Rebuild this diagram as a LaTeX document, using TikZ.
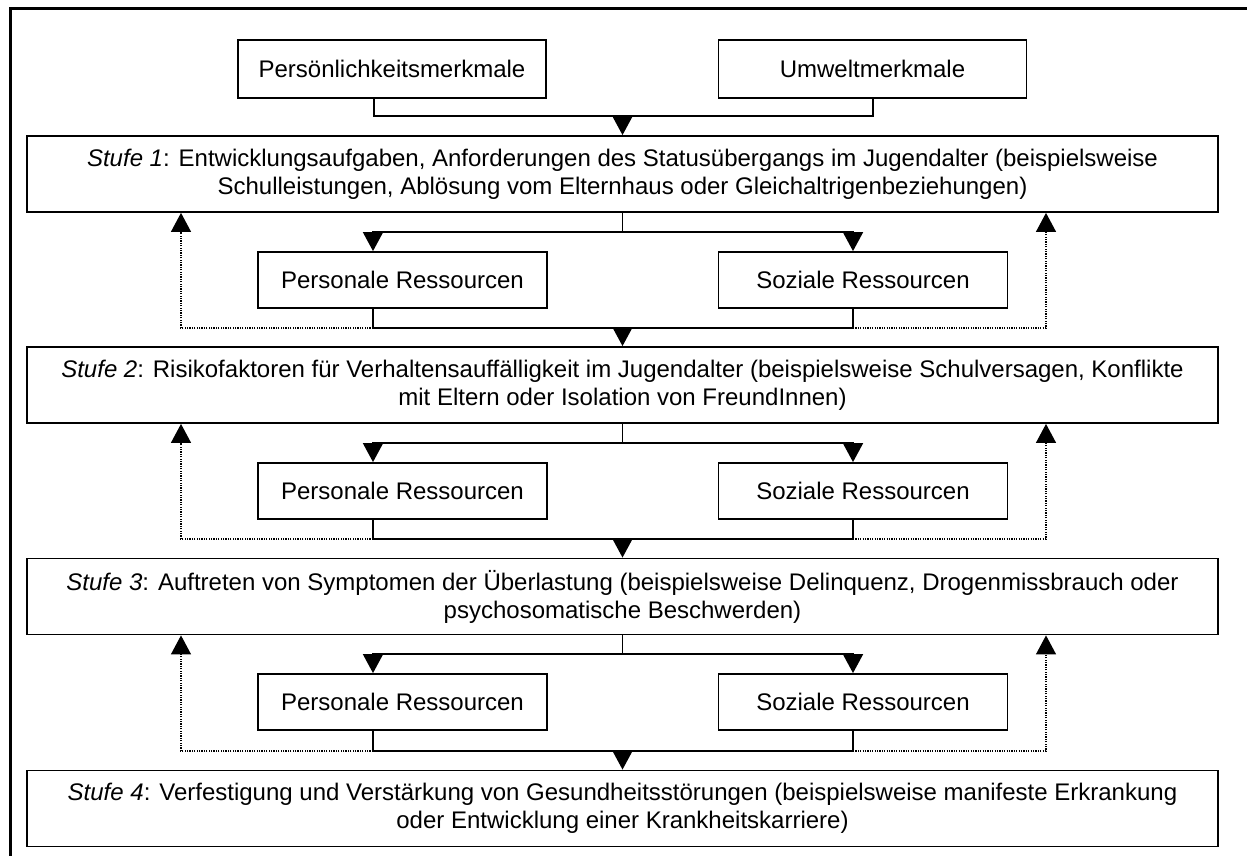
\documentclass[tikz,border=0pt]{standalone}
\usepackage{fontspec}
\setmainfont{Liberation Sans}
\usetikzlibrary{arrows.meta}

\begin{document}
\begin{tikzpicture}[
    x=0.5pt, y=-0.5pt,
    font=\fontsize{12}{14}\selectfont,
    line width=0.9pt,
    topbox/.style={rectangle, draw, minimum width=154pt, minimum height=29pt, inner sep=0pt, align=center},
    resbox/.style={rectangle, draw, minimum width=144.5pt, minimum height=28pt, inner sep=0pt, align=center},
    stufebox/.style={rectangle, draw, minimum width=595.5pt, minimum height=38pt, inner sep=0pt, align=center},
    arrow/.style={-{Triangle[length=9.5pt, width=10pt]}},
    feedback/.style={arrow, line width=0.6pt, dash pattern=on 0.6pt off 0.6pt},
]
\useasboundingbox (0,0) rectangle (1247,856);
\draw[line width=1.5pt] (10,880) |- (1270,9);

\node[topbox] (persoen) at (392,69) {Persönlichkeitsmerkmale};
\node[topbox] (umwelt) at (872.5,69) {Umweltmerkmale};

\node[stufebox] (stufe1) at (622.5,174) {\textit{Stufe 1}: Entwicklungsaufgaben, Anforderungen des Statusübergangs im Jugendalter (beispielsweise\\Schulleistungen, Ablösung vom Elternhaus oder Gleichaltrigenbeziehungen)};
\node[resbox] (pers1) at (402.5,280) {Personale Ressourcen};
\node[resbox] (soz1) at (863,280) {Soziale Ressourcen};

\node[stufebox] (stufe2) at (622.5,385) {\textit{Stufe 2}: Risikofaktoren für Verhaltensauffälligkeit im Jugendalter (beispielsweise Schulversagen, Konflikte\\mit Eltern oder Isolation von FreundInnen)};
\node[resbox] (pers2) at (402.5,491) {Personale Ressourcen};
\node[resbox] (soz2) at (863,491) {Soziale Ressourcen};

\node[stufebox] (stufe3) at (622.5,596.5) {\textit{Stufe 3}: Auftreten von Symptomen der Überlastung (beispielsweise Delinquenz, Drogenmissbrauch oder\\psychosomatische Beschwerden)};
\node[resbox] (pers3) at (402.5,702) {Personale Ressourcen};
\node[resbox] (soz3) at (863,702) {Soziale Ressourcen};

\node[stufebox] (stufe4) at (622.5,808.5) {\textit{Stufe 4}: Verfestigung und Verstärkung von Gesundheitsstörungen (beispielsweise manifeste Erkrankung\\oder Entwicklung einer Krankheitskarriere)};

% columns and junctions
\coordinate (colTL) at (374,0);
\coordinate (colTR) at (873,0);
\coordinate (colL) at (373,0);
\coordinate (colR) at (853,0);
\coordinate (fbL) at (181,0);
\coordinate (fbR) at (1046,0);
\coordinate (merge0) at (622.5,116);
\coordinate (split1) at (622.5,232);
\coordinate (merge1) at (622.5,328);
\coordinate (split2) at (622.5,443);
\coordinate (merge2) at (622.5,539);
\coordinate (split3) at (622.5,654);
\coordinate (merge3) at (622.5,751);

\draw (persoen.south -| colTL) |- (merge0) -| (umwelt.south -| colTR);
\draw[arrow] (merge0) -- (stufe1.north);

\draw (stufe1.south) -- (split1);
\draw[arrow] (split1) -| (pers1.north -| colL);
\draw[arrow] (split1) -| (soz1.north -| colR);
\draw (pers1.south -| colL) |- (merge1) -| (soz1.south -| colR);
\draw[arrow] (merge1) -- (stufe2.north);
\draw[feedback] (merge1 -| colL) -| (stufe1.south -| fbL);
\draw[feedback] (merge1 -| colR) -| (stufe1.south -| fbR);

\draw (stufe2.south) -- (split2);
\draw[arrow] (split2) -| (pers2.north -| colL);
\draw[arrow] (split2) -| (soz2.north -| colR);
\draw (pers2.south -| colL) |- (merge2) -| (soz2.south -| colR);
\draw[arrow] (merge2) -- (stufe3.north);
\draw[feedback] (merge2 -| colL) -| (stufe2.south -| fbL);
\draw[feedback] (merge2 -| colR) -| (stufe2.south -| fbR);

\draw (stufe3.south) -- (split3);
\draw[arrow] (split3) -| (pers3.north -| colL);
\draw[arrow] (split3) -| (soz3.north -| colR);
\draw (pers3.south -| colL) |- (merge3) -| (soz3.south -| colR);
\draw[arrow] (merge3) -- (stufe4.north);
\draw[feedback] (merge3 -| colL) -| (stufe3.south -| fbL);
\draw[feedback] (merge3 -| colR) -| (stufe3.south -| fbR);

\end{tikzpicture}
\end{document}
